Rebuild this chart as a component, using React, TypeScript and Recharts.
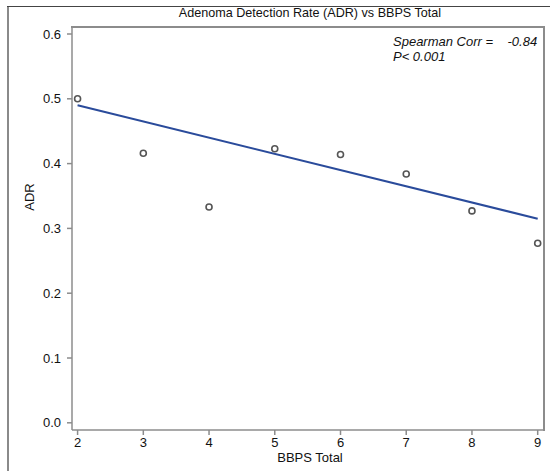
import { ComposedChart, Line, Scatter, XAxis, YAxis } from 'recharts';

// values
const bbpsTotal = [2, 3, 4, 5, 6, 7, 8, 9];
const adrValues = [0.5, 0.416, 0.333, 0.423, 0.414, 0.384, 0.327, 0.277];
const fitX = [2, 9];
const fitY = [0.49, 0.315];
const xTicks = [2, 3, 4, 5, 6, 7, 8, 9];
const yTicks = [0, 0.1, 0.2, 0.3, 0.4, 0.5, 0.6];

const points = bbpsTotal.map((x, i) => ({ x, y: adrValues[i] }));
const fitLine = fitX.map((x, i) => ({ x, y: fitY[i] }));

const font = 'Arial, "Liberation Sans", sans-serif';
const axisGray = '#8c8c8c';
const xDomain = [1.915, 9.096];
const yDomain = [-0.0111, 0.6108];

const OpenCircle = (props: any) => (
  <circle cx={props.cx} cy={props.cy} r={3} fill="#fff" stroke="#555" strokeWidth={1.6} />
);

export default function App() {
  const tickStyle = { fill: '#111', fontSize: 13, fontFamily: font };
  return (
    <div style={{ position: 'absolute', left: 0, top: 0, width: 550, height: 471, background: '#fff' }}>
      <div style={{ position: 'absolute', left: 7, top: 7, width: 2, height: 464, background: '#8a8a8a' }} />
      <div style={{ position: 'absolute', left: 7, top: 6, width: 543, height: 1, background: '#444' }} />
      <div style={{ position: 'absolute', left: 0, top: 0 }}>
        <ComposedChart width={550} height={471} margin={{ top: 27, right: 6, bottom: 1, left: 0 }}>
          <XAxis
            type="number"
            dataKey="x"
            domain={xDomain}
            ticks={xTicks}
            allowDataOverflow
            height={40}
            stroke={axisGray}
            strokeWidth={1.5}
            tickSize={5}
            tickMargin={3}
            tick={tickStyle}
          />
          <YAxis
            type="number"
            dataKey="y"
            domain={yDomain}
            ticks={yTicks}
            allowDataOverflow
            width={72}
            stroke={axisGray}
            strokeWidth={1.5}
            tickSize={5}
            tickMargin={6}
            tick={tickStyle}
            tickFormatter={(v: number) => v.toFixed(1)}
          />
          <Line
            data={fitLine}
            dataKey="y"
            type="linear"
            stroke="#2a4b9b"
            strokeWidth={2}
            dot={false}
            isAnimationActive={false}
          />
          <Scatter data={points} dataKey="y" shape={OpenCircle} isAnimationActive={false} />
        </ComposedChart>
      </div>
      {/* top and right edges of the plot box */}
      <div style={{ position: 'absolute', left: 71, top: 26, width: 473, height: 2, background: axisGray }} />
      <div style={{ position: 'absolute', left: 543, top: 26, width: 2, height: 405, background: axisGray }} />
      <div style={{ position: 'absolute', left: 110, width: 400, top: 6, textAlign: 'center', fontFamily: font, fontSize: 12.6, color: '#111' }}>
        Adenoma Detection Rate (ADR) vs BBPS Total
      </div>
      <div style={{ position: 'absolute', left: 393, top: 34, fontFamily: font, fontSize: 13, fontStyle: 'italic', color: '#111', whiteSpace: 'pre', lineHeight: '15px' }}>
        {'Spearman Corr =    -0.84\nP< 0.001'}
      </div>
      <div style={{ position: 'absolute', left: 210, width: 200, top: 450, textAlign: 'center', fontFamily: font, fontSize: 13, color: '#111' }}>
        BBPS Total
      </div>
      <div style={{ position: 'absolute', left: 30, top: 197, width: 0, height: 0 }}>
        <div style={{ position: 'absolute', left: -30, top: -8, width: 60, textAlign: 'center', transform: 'rotate(-90deg)', fontFamily: font, fontSize: 13, color: '#111', lineHeight: '16px' }}>
          ADR
        </div>
      </div>
    </div>
  );
}
